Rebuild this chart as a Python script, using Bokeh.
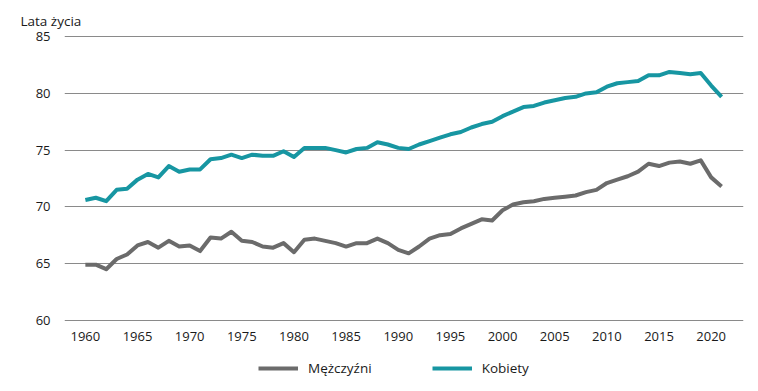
from bokeh.plotting import figure
from bokeh.models import Range1d, Legend, LegendItem, Title, FixedTicker
from bokeh.layouts import column
from bokeh.embed import file_html
from bokeh.resources import INLINE

years = list(range(1960, 2022))
kobiety = [70.6, 70.8, 70.5, 71.5, 71.6, 72.4, 72.9, 72.6, 73.6, 73.1,
           73.3, 73.3, 74.2, 74.3, 74.6, 74.3, 74.6, 74.5, 74.5, 74.9,
           74.4, 75.2, 75.2, 75.2, 75.0, 74.8, 75.1, 75.2, 75.7, 75.5,
           75.2, 75.1, 75.5, 75.8, 76.1, 76.4, 76.6, 77.0, 77.3, 77.5,
           78.0, 78.4, 78.8, 78.9, 79.2, 79.4, 79.6, 79.7, 80.0, 80.1,
           80.6, 80.9, 81.0, 81.1, 81.6, 81.6, 81.9, 81.8, 81.7, 81.8,
           80.7, 79.7]
mezczyzni = [64.9, 64.9, 64.5, 65.4, 65.8, 66.6, 66.9, 66.4, 67.0, 66.5,
             66.6, 66.1, 67.3, 67.2, 67.8, 67.0, 66.9, 66.5, 66.4, 66.8,
             66.0, 67.1, 67.2, 67.0, 66.8, 66.5, 66.8, 66.8, 67.2, 66.8,
             66.2, 65.9, 66.5, 67.2, 67.5, 67.6, 68.1, 68.5, 68.9, 68.8,
             69.7, 70.2, 70.4, 70.5, 70.7, 70.8, 70.9, 71.0, 71.3, 71.5,
             72.1, 72.4, 72.7, 73.1, 73.8, 73.6, 73.9, 74.0, 73.8, 74.1,
             72.6, 71.8]
x_ticks = [1960, 1965, 1970, 1975, 1980, 1985, 1990, 1995, 2000, 2005, 2010, 2015, 2020]
y_ticks = [60, 65, 70, 75, 80, 85]
series_names = ["Mężczyźni", "Kobiety"]

FONT = "Open Sans"
TEAL = "#1796a2"
GREY = "#6b6b6b"
TXT = "#1a1a1a"

p = figure(width=750, height=348, output_backend="svg", toolbar_location=None,
           x_range=Range1d(1958.0, 2023.1), y_range=Range1d(59.8, 85.2),
           min_border_left=64, min_border_right=7, min_border_top=34, min_border_bottom=26)
p.outline_line_color = None
p.background_fill_color = "white"
p.border_fill_color = "white"

p.xgrid.grid_line_color = None
p.ygrid.grid_line_color = "#8a8a8a"
p.ygrid.grid_line_width = 1
p.ygrid.ticker = FixedTicker(ticks=y_ticks)

for ax in (p.xaxis, p.yaxis):
    ax.axis_line_color = None
    ax.major_tick_line_color = None
    ax.minor_tick_line_color = None
    ax.major_label_text_font = FONT
    ax.major_label_text_font_size = "13px"
    ax.major_label_text_color = TXT
p.xaxis.ticker = FixedTicker(ticks=x_ticks)
p.yaxis.ticker = FixedTicker(ticks=y_ticks)
p.xaxis.major_label_standoff = 3
p.yaxis.major_label_standoff = 8

p.line(years, mezczyzni, line_color=GREY, line_width=4, line_join="round")
p.line(years, kobiety, line_color=TEAL, line_width=4, line_join="round")

t = Title(text="Lata życia", align="left", offset=-44, text_font=FONT,
          text_font_size="13.5px", text_font_style="normal", text_color=TXT)
p.add_layout(t, "above")

# legend strip (frames are aligned with the main plot by the column)
lg = figure(width=750, height=40, output_backend="svg", toolbar_location=None,
            x_range=Range1d(0, 1), y_range=Range1d(0, 1),
            x_axis_location=None, y_axis_location=None,
            min_border_left=64, min_border_right=7, min_border_top=0, min_border_bottom=0)
lg.outline_line_color = None
lg.xgrid.grid_line_color = None
lg.ygrid.grid_line_color = None
d_m = lg.line([5, 6], [5, 6], line_color=GREY, line_width=4)
d_k = lg.line([5, 6], [5, 6], line_color=TEAL, line_width=4)
legend = Legend(items=[LegendItem(label=series_names[0], renderers=[d_m]),
                       LegendItem(label=series_names[1], renderers=[d_k])],
                orientation="horizontal", location=(194, 11),
                label_text_font=FONT, label_text_font_size="13.5px", label_text_color=TXT,
                glyph_width=40, glyph_height=14, label_standoff=10, spacing=60,
                border_line_color=None, background_fill_alpha=0, margin=0, padding=0)
lg.add_layout(legend)

open("out.html", "w").write(file_html(column(p, lg), INLINE))
